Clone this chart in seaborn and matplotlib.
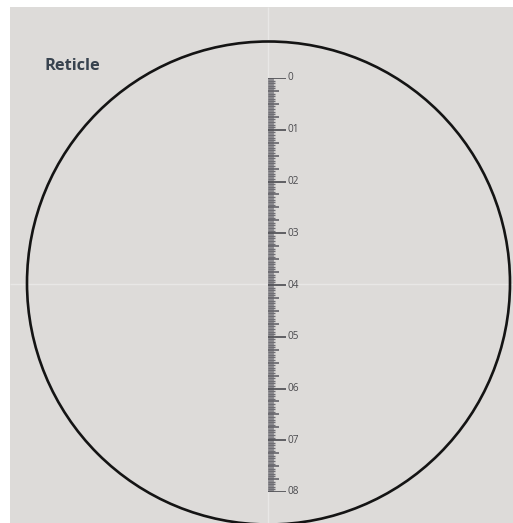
import numpy as np
import matplotlib
matplotlib.use("Agg")
import matplotlib.pyplot as plt
import seaborn as sns
from matplotlib.patches import Circle, Rectangle

sns.set_style("white")
plt.rcParams['font.family'] = ['Open Sans', 'DejaVu Sans']

# reticle scale data
major_values = [0.0, 0.1, 0.2, 0.3, 0.4, 0.5, 0.6, 0.7, 0.8]
major_labels = ["0", "01", "02", "03", "04", "05", "06", "07", "08"]
minor_step = 0.005
title = "Reticle"

W, H = 513, 523
fig = plt.figure(figsize=(W / 100, H / 100), dpi=100, facecolor="white")
ax = fig.add_axes([0, 0, 1, 1])
ax.set_xlim(0, W)
ax.set_ylim(H, 0)
ax.axis("off")

# grey field
ax.add_patch(Rectangle((10, 7), W - 10, H - 7, facecolor="#dddbd9", edgecolor="none", zorder=0))
# faint crosshair, kept inside the grey field
ax.vlines(268, 7, H, color="#e8e7e6", lw=1.0, zorder=1)
ax.hlines(284, 10, W, color="#e8e7e6", lw=1.0, zorder=1)
# field of view circle
ax.add_patch(Circle((268.5, 283), 241.5, facecolor="none", edgecolor="#141414", lw=1.9, zorder=3))

ax.text(45, 66, title, fontsize=11.8, fontweight="bold", color="#38434f", va="center", ha="left")

# ruler in its own axes, value scale on y
rx0, rx1 = 268, 300
ry0, ry1 = 78, 492
rax = fig.add_axes([rx0 / W, 1 - ry1 / H, (rx1 - rx0) / W, (ry1 - ry0) / H])
rax.set_xlim(0, 1)
rax.set_ylim(0.8, 0.0)
rax.axis("off")
rax.patch.set_alpha(0)

minor = np.round(np.arange(0, 0.8 + 1e-9, minor_step), 4)
short = [v for v in minor if round(v * 1000) % 25 != 0]
mid = [v for v in minor if round(v * 1000) % 25 == 0 and round(v * 1000) % 100 != 0]
rax.vlines(0.09, 0, 0.8, color="#8f8e93", lw=4.2)
rax.hlines(short, 0, 0.22, color="#6f6e74", lw=1.0)
rax.hlines(mid, 0, 0.34, color="#66656b", lw=1.2)
rax.hlines(major_values, 0, 0.55, color="#55555a", lw=1.3)
for v, lab in zip(major_values, major_labels):
    rax.text(0.6, v, lab, fontsize=7.2, color="#4a4a4e", va="center", ha="left")

fig.savefig("out.png", dpi=100, facecolor="white")
